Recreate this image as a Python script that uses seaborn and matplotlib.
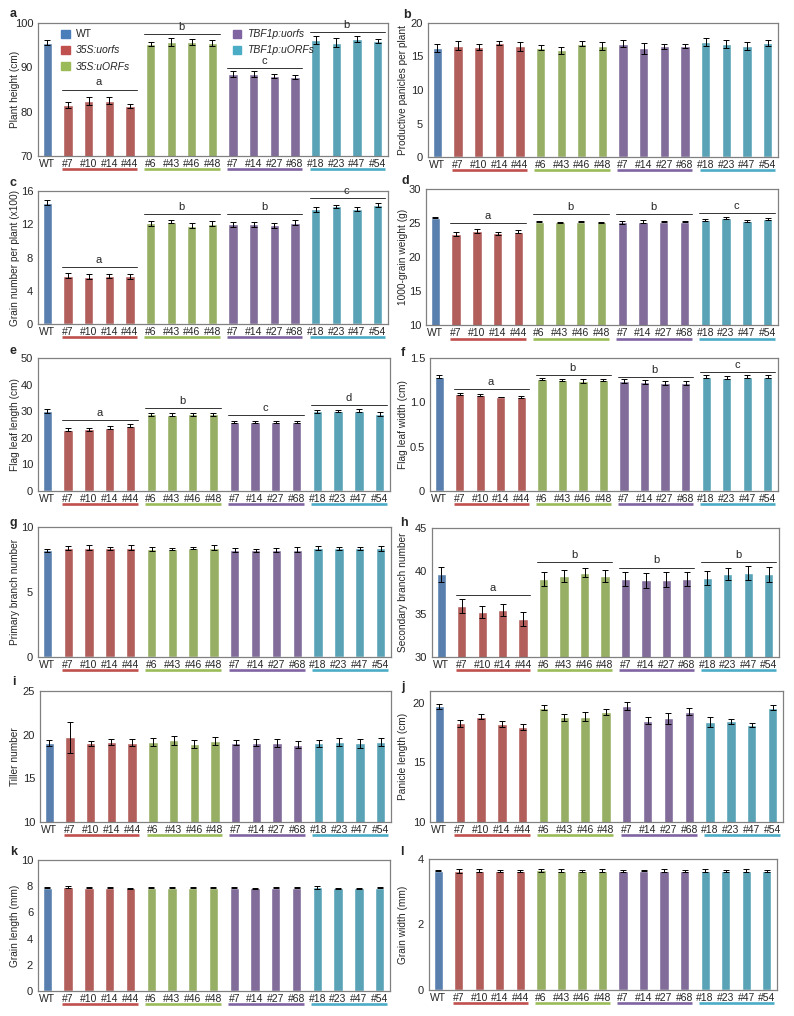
import numpy as np
import pandas as pd
import matplotlib
matplotlib.use("Agg")
import matplotlib.pyplot as plt
import matplotlib.transforms as mtransforms
from matplotlib.patches import Patch
import seaborn as sns

sns.set_style("white")
plt.rcParams["font.family"] = ["Liberation Sans", "DejaVu Sans"]

# ---- data ----
labels = ["WT", "#7", "#10", "#14", "#44", "#6", "#43", "#46", "#48",
          "#7", "#14", "#27", "#68", "#18", "#23", "#47", "#54"]
lines = ["WT", "35S:uorfs", "35S:uORFs", "TBF1p:uorfs", "TBF1p:uORFs"]
bar_line = ["WT"] + ["35S:uorfs"] * 4 + ["35S:uORFs"] * 4 + ["TBF1p:uorfs"] * 4 + ["TBF1p:uORFs"] * 4
colors = ["#4A7EBB", "#C0504D", "#9BBB59", "#8064A2", "#4BACC6"]

height_mean = [95.6, 81.5, 82.4, 82.5, 81.3, 95.2, 95.7, 95.7, 95.5, 88.5, 88.5, 88.0, 87.8, 96.1, 95.6, 96.4, 96.0]
height_sem = [0.5, 0.7, 0.8, 0.8, 0.5, 0.5, 0.9, 0.7, 0.6, 0.6, 0.6, 0.4, 0.4, 0.9, 1.0, 0.7, 0.5]

panicle_mean = [16.3, 16.6, 16.4, 17.0, 16.5, 16.3, 15.9, 16.9, 16.6, 16.9, 16.2, 16.5, 16.6, 17.1, 16.9, 16.5, 17.0]
panicle_sem = [0.6, 0.7, 0.5, 0.3, 0.7, 0.4, 0.5, 0.4, 0.6, 0.5, 0.8, 0.4, 0.3, 0.6, 0.6, 0.6, 0.5]

grain_num_mean = [14.6, 5.8, 5.7, 5.75, 5.75, 12.1, 12.3, 11.8, 12.05, 12.0, 12.0, 11.85, 12.2, 13.8, 14.15, 13.8, 14.3]
grain_num_sem = [0.3, 0.3, 0.3, 0.25, 0.3, 0.3, 0.2, 0.3, 0.3, 0.3, 0.3, 0.3, 0.35, 0.3, 0.2, 0.25, 0.25]

kgw_mean = [25.8, 23.4, 23.8, 23.5, 23.7, 25.2, 25.1, 25.2, 25.1, 25.1, 25.2, 25.2, 25.2, 25.4, 25.7, 25.3, 25.6]
kgw_sem = [0.05, 0.3, 0.3, 0.2, 0.2, 0.1, 0.1, 0.1, 0.05, 0.2, 0.2, 0.1, 0.1, 0.15, 0.15, 0.2, 0.1]

leaf_len_mean = [30.2, 23.0, 23.2, 23.8, 24.6, 28.8, 28.7, 28.8, 28.8, 26.0, 26.0, 26.0, 26.0, 29.9, 30.2, 30.2, 29.0]
leaf_len_sem = [0.8, 0.6, 0.5, 0.6, 0.6, 0.6, 0.6, 0.5, 0.6, 0.5, 0.5, 0.4, 0.5, 0.6, 0.4, 0.6, 0.7]

leaf_wid_mean = [1.29, 1.09, 1.08, 1.06, 1.06, 1.26, 1.25, 1.24, 1.25, 1.24, 1.23, 1.22, 1.22, 1.29, 1.28, 1.29, 1.29]
leaf_wid_sem = [0.015, 0.01, 0.01, 0.005, 0.01, 0.01, 0.01, 0.02, 0.015, 0.02, 0.02, 0.02, 0.02, 0.02, 0.02, 0.015, 0.015]

prim_mean = [8.2, 8.4, 8.4, 8.35, 8.4, 8.3, 8.3, 8.4, 8.4, 8.25, 8.2, 8.25, 8.25, 8.4, 8.35, 8.35, 8.35]
prim_sem = [0.1, 0.15, 0.2, 0.15, 0.2, 0.15, 0.1, 0.1, 0.2, 0.15, 0.1, 0.15, 0.2, 0.15, 0.15, 0.15, 0.2]

sec_mean = [39.6, 35.9, 35.2, 35.5, 34.4, 39.1, 39.4, 39.8, 39.4, 39.1, 38.9, 39.0, 39.1, 39.2, 39.7, 39.8, 39.6]
sec_sem = [0.9, 0.8, 0.7, 0.7, 0.8, 0.8, 0.7, 0.5, 0.7, 0.8, 0.9, 0.9, 0.8, 0.8, 0.7, 0.8, 0.9]

tiller_mean = [19.05, 19.7, 19.0, 19.2, 19.1, 19.2, 19.35, 18.95, 19.3, 19.1, 19.1, 19.0, 18.85, 19.0, 19.2, 19.0, 19.2]
tiller_sem = [0.35, 1.8, 0.25, 0.35, 0.35, 0.45, 0.55, 0.45, 0.45, 0.3, 0.45, 0.45, 0.4, 0.4, 0.45, 0.5, 0.45]

pan_len_mean = [19.7, 18.3, 18.85, 18.2, 17.95, 19.6, 18.8, 18.85, 19.2, 19.75, 18.5, 18.7, 19.25, 18.4, 18.45, 18.15, 19.6]
pan_len_sem = [0.2, 0.3, 0.2, 0.25, 0.25, 0.2, 0.3, 0.35, 0.25, 0.35, 0.3, 0.45, 0.3, 0.4, 0.2, 0.15, 0.2]

grain_len_mean = [7.9, 7.92, 7.9, 7.9, 7.85, 7.9, 7.88, 7.9, 7.9, 7.9, 7.85, 7.88, 7.9, 7.92, 7.85, 7.85, 7.9]
grain_len_sem = [0.05, 0.06, 0.05, 0.04, 0.04, 0.05, 0.04, 0.04, 0.04, 0.04, 0.05, 0.04, 0.04, 0.1, 0.04, 0.05, 0.04]

grain_wid_mean = [3.64, 3.63, 3.64, 3.63, 3.64, 3.65, 3.64, 3.64, 3.64, 3.63, 3.64, 3.64, 3.63, 3.64, 3.63, 3.64, 3.63]
grain_wid_sem = [0.02, 0.05, 0.04, 0.02, 0.03, 0.04, 0.05, 0.03, 0.05, 0.02, 0.02, 0.04, 0.02, 0.04, 0.02, 0.04, 0.04]

# significance letters: (group index 1..4, line height, letter)
sig_a = [(1, 85.0, "a"), (2, 97.6, "b"), (3, 89.8, "c"), (4, 98.0, "b")]
sig_c = [(1, 6.9, "a"), (2, 13.25, "b"), (3, 13.25, "b"), (4, 15.1, "c")]
sig_d = [(1, 25.0, "a"), (2, 26.3, "b"), (3, 26.3, "b"), (4, 26.4, "c")]
sig_e = [(1, 26.6, "a"), (2, 31.2, "b"), (3, 28.4, "c"), (4, 32.4, "d")]
sig_f = [(1, 1.15, "a"), (2, 1.31, "b"), (3, 1.29, "b"), (4, 1.34, "c")]
sig_h = [(1, 37.25, "a"), (2, 41.0, "b"), (3, 40.4, "b"), (4, 41.0, "b")]

panels = [
    ("a", "Plant height (cm)", height_mean, height_sem, (70, 100), [70, 80, 90, 100], sig_a, (38, 388, 23, 156), (10, 14)),
    ("b", "Productive panicles per plant", panicle_mean, panicle_sem, (0, 20), [0, 5, 10, 15, 20], [], (428, 778, 23, 157), (403, 15)),
    ("c", "Grain number per plant (x100)", grain_num_mean, grain_num_sem, (0, 16), [0, 4, 8, 12, 16], sig_c, (38, 388, 191, 324), (10, 183)),
    ("d", "1000-grain weight (g)", kgw_mean, kgw_sem, (10, 30), [10, 15, 20, 25, 30], sig_d, (426, 778, 189, 325), (401, 181)),
    ("e", "Flag leaf length (cm)", leaf_len_mean, leaf_len_sem, (0, 50), [0, 10, 20, 30, 40, 50], sig_e, (38, 390, 358, 491), (10, 351)),
    ("f", "Flag leaf width (cm)", leaf_wid_mean, leaf_wid_sem, (0, 1.5), [0, 0.5, 1.0, 1.5], sig_f, (430, 778, 358, 491), (401, 353)),
    ("g", "Primary branch number", prim_mean, prim_sem, (0, 10), [0, 5, 10], [], (38, 391, 527, 657), (10, 523)),
    ("h", "Secondary branch number", sec_mean, sec_sem, (30, 45), [30, 35, 40, 45], sig_h, (432, 779, 528, 657), (400, 523)),
    ("i", "Tiller number", tiller_mean, tiller_sem, (10, 25), [10, 15, 20, 25], [], (40, 391, 691, 822), (12, 682)),
    ("j", "Panicle length (cm)", pan_len_mean, pan_len_sem, (10, 21), [10, 15, 20], [], (430, 783, 691, 822), (401, 687)),
    ("k", "Grain length (mm)", grain_len_mean, grain_len_sem, (0, 10), [0, 2, 4, 6, 8, 10], [], (38, 390, 860, 991), (10, 852)),
    ("l", "Grain width (mm)", grain_wid_mean, grain_wid_sem, (0, 4), [0, 2, 4], [], (429, 777, 859, 990), (400, 852)),
]

W, H = 794, 1016
fig = plt.figure(figsize=(W / 100, H / 100), dpi=100)
spine_col = "#808080"
pos = np.arange(len(labels))

for key, ylab, mean, sem, ylim, yticks, sig, (L, R, T, B), (lx, ly) in panels:
    ax = fig.add_axes([L / W, 1 - B / H, (R - L) / W, (B - T) / H])
    df = pd.DataFrame({"pos": pos, "value": mean, "line": bar_line})
    sns.barplot(data=df, x="pos", y="value", hue="line", hue_order=lines,
                palette=colors, dodge=False, width=0.45, errorbar=None,
                legend=False, ax=ax, order=list(pos))
    ax.errorbar(pos, mean, yerr=sem, fmt="none", ecolor="black",
                elinewidth=0.7, capsize=2, capthick=0.7, zorder=5)
    ax.set_xlim(-0.45, 16.5)
    ax.set_ylim(*ylim)
    ax.set_yticks(yticks)
    if key == "f":
        ax.set_yticklabels(["0", "0.5", "1.0", "1.5"])
    ax.set_xticks(pos)
    ax.set_xticklabels(labels, fontsize=7.5)
    ax.set_xticks(np.arange(0.5, 16, 1), minor=True)
    ax.tick_params(axis="x", which="major", length=0, pad=2)
    ax.tick_params(axis="x", which="minor", length=2.5, color=spine_col, width=0.7)
    ax.tick_params(axis="y", length=2.5, color=spine_col, width=0.7, labelsize=8, pad=1)
    ax.set_xlabel("")
    ax.set_ylabel(ylab, fontsize=7.3, va="center")
    lab_x = 15 if L < 300 else 403
    ax.yaxis.set_label_coords(lab_x / W, 0.5,
                              transform=mtransforms.blended_transform_factory(fig.transFigure, ax.transAxes))
    for s in ax.spines.values():
        s.set_color(spine_col)
        s.set_linewidth(0.9)

    trans = mtransforms.blended_transform_factory(ax.transData, ax.transAxes)
    for g in range(4):
        start = 1 + 4 * g
        ax.plot([start - 0.3, start + 3.35], [-0.1, -0.1], color=colors[g + 1],
                lw=1.9, transform=trans, clip_on=False, solid_capstyle="butt")

    for g, yline, letter in sig:
        start = 1 + 4 * (g - 1)
        ax.plot([start - 0.3, start + 3.35], [yline, yline], color="#333333", lw=0.7)
        ax.annotate(letter, (start + 1.5, yline), xytext=(0, 1.5),
                    textcoords="offset points", ha="center", va="bottom", fontsize=8)

    fig.text(lx / W, 1 - ly / H, key, fontsize=9, fontweight="bold", ha="left", va="center")

    if key == "a":
        handles = [Patch(color=c) for c in colors]
        leg1 = ax.legend(handles[:3], lines[:3], loc="upper left", bbox_to_anchor=(0.055, 0.985),
                         frameon=False, fontsize=7.5, handlelength=0.8, handleheight=0.8,
                         handletextpad=0.6, labelspacing=0.6, borderaxespad=0)
        for t in leg1.get_texts()[1:]:
            t.set_fontstyle("italic")
        ax.add_artist(leg1)
        leg2 = ax.legend(handles[3:], lines[3:], loc="upper left", bbox_to_anchor=(0.545, 0.985),
                         frameon=False, fontsize=7.5, handlelength=0.8, handleheight=0.8,
                         handletextpad=0.6, labelspacing=0.6, borderaxespad=0)
        for t in leg2.get_texts():
            t.set_fontstyle("italic")

fig.savefig("out.png", dpi=100)
